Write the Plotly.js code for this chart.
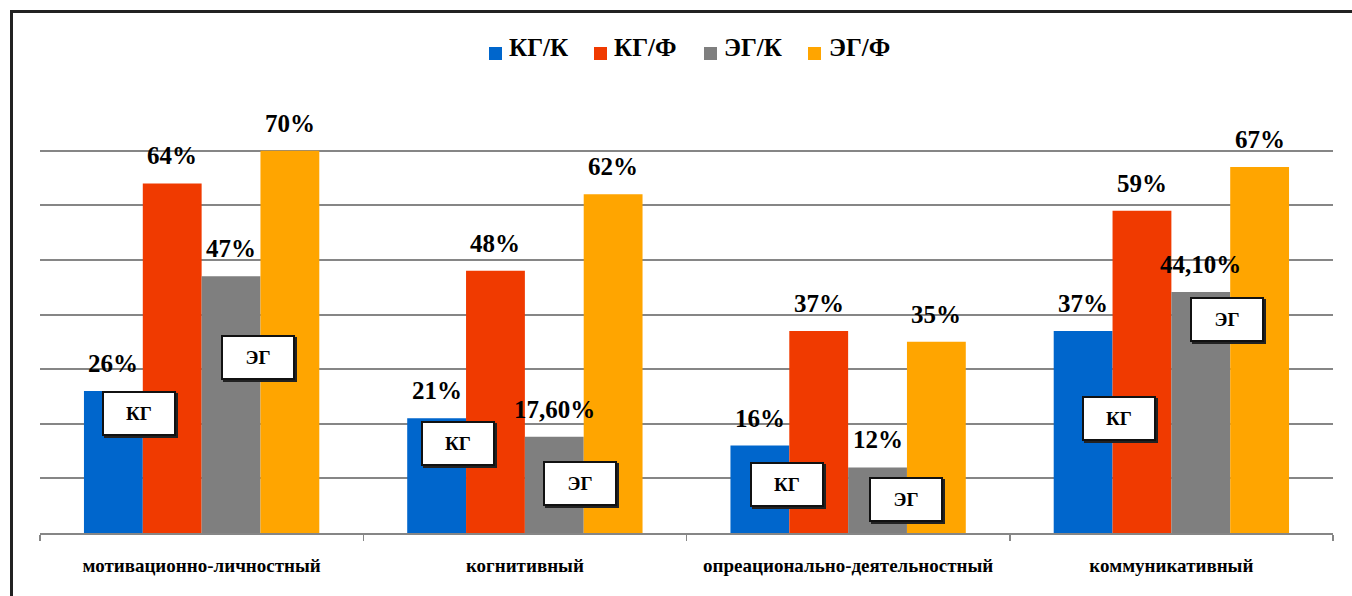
<!DOCTYPE html>
<html>
<head>
<meta charset="utf-8">
<script src="https://cdn.plot.ly/plotly-3.0.1.min.js"></script>
<style>
html,body{margin:0;padding:0;background:#fff;overflow:hidden;width:1352px;height:596px;}
#wrap{position:relative;width:1352px;height:596px;overflow:hidden;}
#chart{position:absolute;left:0;top:0;width:1352px;height:596px;}
#frame{position:absolute;left:10px;top:10px;width:1400px;height:700px;border-top:3px solid #222;border-left:3px solid #222;pointer-events:none;}
</style>
</head>
<body>
<div id="wrap">
<div id="chart"></div>
<div id="frame"></div>
</div>
<script>
// ---- data ----
const categories = ["мотивационно-личностный", "когнитивный", "опреационально-деятельностный", "коммуникативный"];
const seriesNames = ["КГ/К", "КГ/Ф", "ЭГ/К", "ЭГ/Ф"];
const kgK = [26, 21, 16, 37];
const kgF = [64, 48, 37, 59];
const egK = [47, 17.6, 12, 44.1];
const egF = [70, 62, 35, 67];
const kgKLabels = ["26%", "21%", "16%", "37%"];
const kgFLabels = ["64%", "48%", "37%", "59%"];
const egKLabels = ["47%", "17,60%", "12%", "44,10%"];
const egFLabels = ["70%", "62%", "35%", "67%"];
const boxTexts = ["КГ", "ЭГ"];

// ---- styles ----
const colors = ["#0066CC", "#F03A00", "#7F7F7F", "#FFA500"];
const serifFont = "Liberation Serif, Times New Roman, serif";
const bargap = 0.272;
const nSeries = 4;
const barW = (1 - bargap) / nSeries;

const values = [kgK, kgF, egK, egF];
const labels = [kgKLabels, kgFLabels, egKLabels, egFLabels];

const traces = values.map((v, k) => ({
  type: "bar",
  name: seriesNames[k],
  x: categories,
  y: v,
  marker: {color: colors[k], line: {width: 0}},
  hoverinfo: "skip",
  showlegend: false
}));

const ml = 40, mr = 19, mt = 96, mb = 63;
const pw = 1352 - ml - mr, ph = 596 - mt - mb;
const px = (p) => (p - ml) / pw;
const py = (p) => (596 - mb - p) / ph;

const annotations = [];
// value labels above bars
values.forEach((v, k) => {
  v.forEach((val, i) => {
    annotations.push({
      xref: "x", yref: "y",
      x: i + (k - (nSeries - 1) / 2) * barW,
      y: val,
      text: "<b>" + labels[k][i] + "</b>",
      showarrow: false,
      yanchor: "bottom",
      yshift: 12,
      font: {family: serifFont, size: 25, color: "#000"}
    });
  });
});

// "КГ" / "ЭГ" callout boxes (placement in axis coords)
const boxPos = [
  [-0.194, 21.8, 0], [0.174, 32.2, 1],
  [0.793, 16.3, 0], [1.171, 9.15, 1],
  [1.811, 8.8, 0], [2.179, 6.2, 1],
  [2.838, 20.9, 0], [3.172, 39.0, 1]
];
boxPos.forEach(([bx, by, t]) => {
  annotations.push({
    xref: "x", yref: "y", x: bx, y: by, xshift: 2, yshift: -2,
    text: "", showarrow: false, width: 70, height: 41,
    bgcolor: "#222", borderwidth: 2, bordercolor: "#222", borderpad: 0
  });
  annotations.push({
    xref: "x", yref: "y", x: bx, y: by,
    text: "<b>" + boxTexts[t] + "</b>", showarrow: false, width: 70, height: 41,
    bgcolor: "#fff", borderwidth: 2, bordercolor: "#111", borderpad: 0,
    font: {family: serifFont, size: 19, color: "#000"}
  });
});

// legend (square swatch + bold name), placed above the plot
const legendSwatchX = [495, 600, 710, 815];
const legendY = 47;
seriesNames.forEach((name, k) => {
  annotations.push({
    xref: "paper", yref: "paper", x: px(legendSwatchX[k]), y: py(legendY),
    text: "", showarrow: false, width: 13, height: 13, borderpad: 0, borderwidth: 0,
    bgcolor: colors[k]
  });
  annotations.push({
    xref: "paper", yref: "paper", x: px(legendSwatchX[k] + 12), xanchor: "left",
    y: py(legendY), yanchor: "middle",
    text: "<b>" + name + "</b>", showarrow: false,
    font: {family: serifFont, size: 25, color: "#000"}
  });
});

const layout = {
  width: 1352, height: 596,
  margin: {l: ml, r: mr, t: mt, b: mb, pad: 0},
  paper_bgcolor: "#fff", plot_bgcolor: "#fff",
  font: {family: serifFont, color: "#000"},
  barmode: "group", bargap: bargap, bargroupgap: 0,
  showlegend: false,
  xaxis: {
    type: "category",
    tickson: "boundaries",
    ticks: "outside", ticklen: 6, tickwidth: 1.5, tickcolor: "#868686",
    showline: true, linecolor: "#868686", linewidth: 2,
    showgrid: false,
    tickfont: {family: serifFont, size: 19, color: "#000", weight: 700},
    ticklabelstandoff: 14,
    fixedrange: true
  },
  yaxis: {
    range: [0, 80], dtick: 10, tick0: 0,
    showticklabels: false, ticks: "",
    showgrid: true, gridcolor: "#868686", gridwidth: 2,
    zeroline: false, showline: false,
    fixedrange: true
  },
  annotations: annotations
};

Plotly.newPlot("chart", traces, layout, {displayModeBar: false, staticPlot: true});
</script>
</body>
</html>
